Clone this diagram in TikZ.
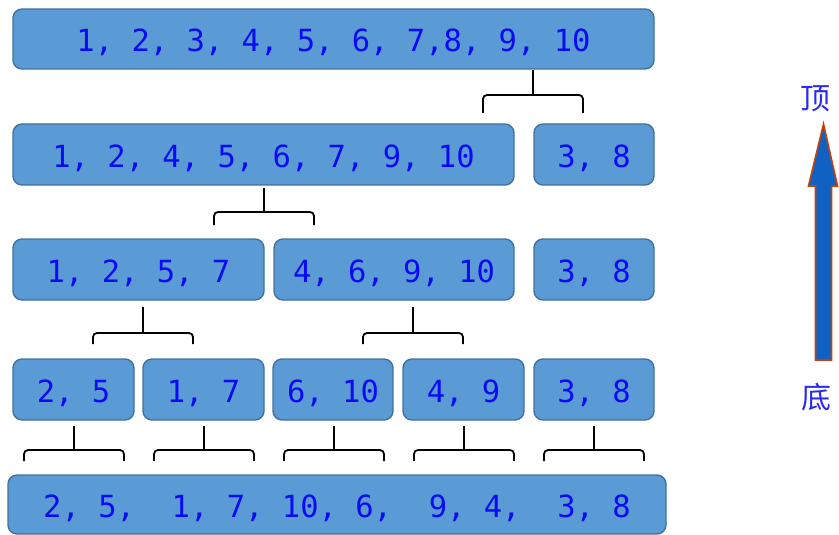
\documentclass[tikz,border=0pt]{standalone}
\usepackage{fontspec}
\setmonofont{DejaVu Sans Mono}
\newfontfamily\cjk{Noto Sans CJK SC}
\definecolor{boxfill}{HTML}{5B9BD5}
\definecolor{boxline}{HTML}{41719C}
\definecolor{numblue}{HTML}{0A0AF5}
\definecolor{arrfill}{HTML}{0F62C2}
\definecolor{arrline}{HTML}{C4410E}
\definecolor{cjkblue}{HTML}{2A2AF0}
\newcommand{\brk}[5]{%
  \coordinate (#1s) at (#2,#3);
  \coordinate (#1h) at (#2,#4);
  \draw[bracket] (#1s) -- (#1h);
  \draw[bracket,rounded corners=4pt] ([xshift=-50pt]#1h |- 0,#5) -- ([xshift=-50pt]#1h) -- ([xshift=50pt]#1h) -- ([xshift=50pt]#1h |- 0,#5);
}
\begin{document}
\begin{tikzpicture}[x=1pt,y=-1pt,
  box/.style={draw=boxline,line width=1.4pt,fill=boxfill,rounded corners=9pt,
    inner sep=0pt,outer sep=0pt,minimum height=61pt,
    font=\ttfamily\fontsize{30.5}{30.5}\selectfont,text=numblue,
    text height=25pt,text depth=0pt},
  bracket/.style={draw=black,line width=1.8pt},
  cjklabel/.style={font=\cjk\fontsize{30}{30}\selectfont,text=cjkblue,inner sep=0pt}]
\useasboundingbox (0,0) rectangle (839,535);
% row 1
\node[box,minimum width=641pt,minimum height=60pt] (r1) at (333.5,39) {1, 2, 3, 4, 5, 6, 7,8, 9, 10};
% row 2
\node[box,minimum width=501pt] (r2a) at (263.5,154.5) {1, 2, 4, 5, 6, 7, 9, 10};
\node[box,minimum width=120pt] (r2b) at (594,154.5) {3, 8};
% row 3
\node[box,minimum width=251pt] (r3a) at (138.5,269.5) {1, 2, 5, 7};
\node[box,minimum width=240pt] (r3b) at (394,269.5) {4, 6, 9, 10};
\node[box,minimum width=120pt] (r3c) at (594,269.5) {3, 8};
% row 4
\node[box,minimum width=121pt] (r4a) at (73.5,389.5) {2, 5};
\node[box,minimum width=121pt] (r4b) at (203.5,389.5) {1, 7};
\node[box,minimum width=120pt] (r4c) at (333,389.5) {6, 10};
\node[box,minimum width=121pt] (r4d) at (463.5,389.5) {4, 9};
\node[box,minimum width=120pt] (r4e) at (594,389.5) {3, 8};
% row 5
\node[box,minimum width=658pt,minimum height=59pt] (r5) at (337,504.5) {2, 5,~~1, 7, 10, 6,~~9, 4,~~3, 8};
% brackets
\brk{ba}{533}{70}{95}{113}
\brk{bb}{264}{188}{212}{225}
\brk{bc}{143}{307}{333}{344}
\brk{bd}{413}{307}{333}{344}
\brk{be}{74}{426}{450}{461}
\brk{bf}{204}{426}{450}{461}
\brk{bg}{334}{426}{450}{461}
\brk{bh}{464}{426}{450}{461}
\brk{bi}{594}{426}{450}{461}
% arrow
\draw[draw=arrline,fill=arrfill,line width=1.6pt,line join=miter]
  (823.5,124) -- (837.5,186) -- (831.5,186) -- (831.5,360) -- (815.5,360) -- (815.5,186) -- (808.5,186) -- cycle;
\node[cjklabel] (top) at (815,99) {顶};
\node[cjklabel] (bot) at (816,397) {底};
\end{tikzpicture}
\end{document}
